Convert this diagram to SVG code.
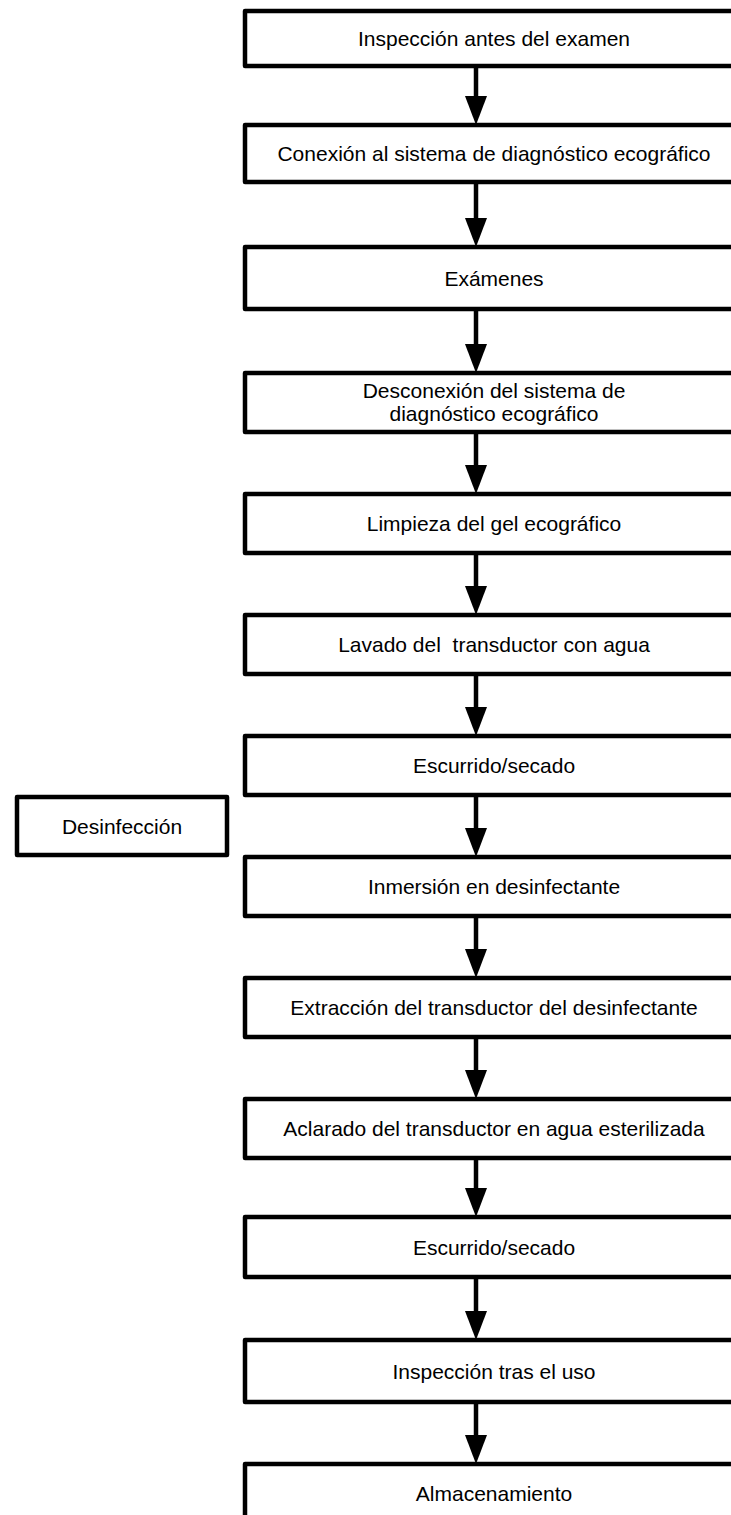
<svg xmlns="http://www.w3.org/2000/svg" width="731" height="1515" viewBox="0 0 731 1515">
<style>
.box{fill:#fff;stroke:#000;stroke-width:4.5;stroke-linejoin:round}
.lbl{font-family:"Liberation Sans",Arial,sans-serif;font-size:21px;fill:#000;text-anchor:middle}
.ln{stroke:#000;stroke-width:4.5;fill:none}
.hd{fill:#000;stroke:none}
</style>
<rect width="731" height="1515" fill="#fff"/>
<g id="connectors">
<line class="ln" x1="476" y1="66" x2="476" y2="97"/><polygon class="hd" points="465,96 487,96 476,125"/>
<line class="ln" x1="476" y1="182" x2="476" y2="219"/><polygon class="hd" points="465,218 487,218 476,247"/>
<line class="ln" x1="476" y1="309" x2="476" y2="345"/><polygon class="hd" points="465,344 487,344 476,373"/>
<line class="ln" x1="476" y1="432" x2="476" y2="466"/><polygon class="hd" points="465,465 487,465 476,494"/>
<line class="ln" x1="476" y1="553" x2="476" y2="587"/><polygon class="hd" points="465,586 487,586 476,615"/>
<line class="ln" x1="476" y1="674" x2="476" y2="708"/><polygon class="hd" points="465,707 487,707 476,736"/>
<line class="ln" x1="476" y1="795" x2="476" y2="829"/><polygon class="hd" points="465,828 487,828 476,857"/>
<line class="ln" x1="476" y1="916" x2="476" y2="950"/><polygon class="hd" points="465,949 487,949 476,978"/>
<line class="ln" x1="476" y1="1037" x2="476" y2="1071"/><polygon class="hd" points="465,1070 487,1070 476,1099"/>
<line class="ln" x1="476" y1="1158" x2="476" y2="1189"/><polygon class="hd" points="465,1188 487,1188 476,1217"/>
<line class="ln" x1="476" y1="1277" x2="476" y2="1312"/><polygon class="hd" points="465,1311 487,1311 476,1340"/>
<line class="ln" x1="476" y1="1402" x2="476" y2="1436"/><polygon class="hd" points="465,1435 487,1435 476,1464"/>
</g>
<g id="n1"><rect class="box" x="245" y="11" width="500" height="55"/><text class="lbl" x="494" y="46">Inspección antes del examen</text></g>
<g id="n2"><rect class="box" x="245" y="125" width="500" height="57"/><text class="lbl" x="494" y="161">Conexión al sistema de diagnóstico ecográfico</text></g>
<g id="n3"><rect class="box" x="245" y="247" width="500" height="62"/><text class="lbl" x="494" y="286">Exámenes</text></g>
<g id="n4"><rect class="box" x="245" y="373" width="500" height="59"/><text class="lbl" x="494" y="398">Desconexión del sistema de</text><text class="lbl" x="494" y="421">diagnóstico ecográfico</text></g>
<g id="n5"><rect class="box" x="245" y="494" width="500" height="59"/><text class="lbl" x="494" y="531">Limpieza del gel ecográfico</text></g>
<g id="n6"><rect class="box" x="245" y="615" width="500" height="59"/><text class="lbl" x="494" y="652" xml:space="preserve">Lavado del  transductor con agua</text></g>
<g id="n7"><rect class="box" x="245" y="736" width="500" height="59"/><text class="lbl" x="494" y="773">Escurrido/secado</text></g>
<g id="n8"><rect class="box" x="245" y="857" width="500" height="59"/><text class="lbl" x="494" y="894">Inmersión en desinfectante</text></g>
<g id="n9"><rect class="box" x="245" y="978" width="500" height="59"/><text class="lbl" x="494" y="1015">Extracción del transductor del desinfectante</text></g>
<g id="n10"><rect class="box" x="245" y="1099" width="500" height="59"/><text class="lbl" x="494" y="1136">Aclarado del transductor en agua esterilizada</text></g>
<g id="n11"><rect class="box" x="245" y="1217" width="500" height="60"/><text class="lbl" x="494" y="1255">Escurrido/secado</text></g>
<g id="n12"><rect class="box" x="245" y="1340" width="500" height="62"/><text class="lbl" x="494" y="1379">Inspección tras el uso</text></g>
<g id="n13"><rect class="box" x="245" y="1464" width="500" height="80"/><text class="lbl" x="494" y="1501">Almacenamiento</text></g>
<g id="n14"><rect class="box" x="17" y="797" width="210" height="58"/><text class="lbl" x="122" y="834">Desinfección</text></g>
</svg>
